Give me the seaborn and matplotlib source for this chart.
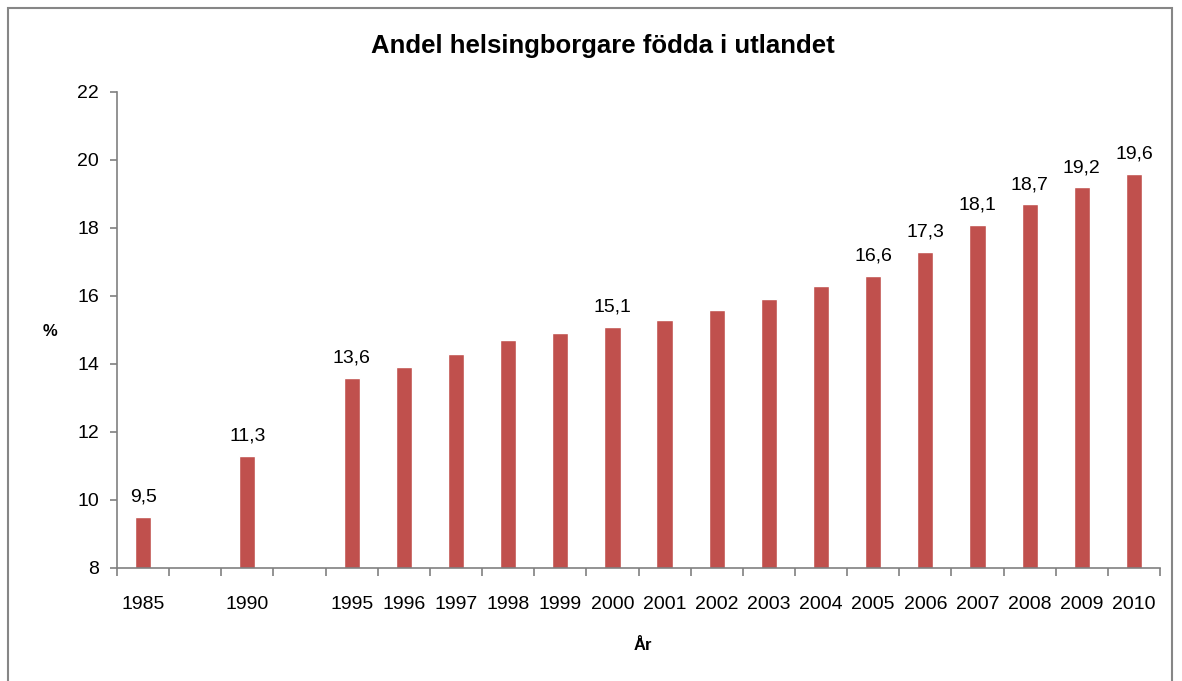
import matplotlib
matplotlib.use("Agg")
import matplotlib.pyplot as plt
import seaborn as sns
import pandas as pd
from matplotlib.patches import Rectangle

# Data
years = ["1985", "1990", "1995", "1996", "1997", "1998", "1999", "2000", "2001",
         "2002", "2003", "2004", "2005", "2006", "2007", "2008", "2009", "2010"]
share = [9.5, 11.3, 13.6, 13.9, 14.3, 14.7, 14.9, 15.1, 15.3,
         15.6, 15.9, 16.3, 16.6, 17.3, 18.1, 18.7, 19.2, 19.6]
# empty slots between 1985/1990 and 1990/1995
slots = ["1985", "_gap1", "1990", "_gap2"] + years[2:]
labelled = ["1985", "1990", "1995", "2000", "2005", "2006", "2007", "2008", "2009", "2010"]

df = pd.DataFrame({"year": years, "share": share})

sns.set_style("white")
plt.rcParams["font.family"] = ["Liberation Sans", "DejaVu Sans"]
plt.rcParams["text.color"] = "black"
plt.rcParams["xtick.labelcolor"] = "black"
plt.rcParams["ytick.labelcolor"] = "black"
plt.rcParams["axes.labelcolor"] = "black"

fig = plt.figure(figsize=(11.82, 6.81), dpi=100)
ax = fig.add_axes([117 / 1182, 1 - 568 / 681, (1160 - 117) / 1182, (568 - 92) / 681])

sns.barplot(data=df, x="year", y="share", order=slots, color="#C0504D",
            width=0.31, saturation=1, ax=ax)

ax.set_ylim(8, 22)
ax.set_yticks(range(8, 23, 2))
ax.set_xlim(-0.5, len(slots) - 0.5)

# Excel style: tick marks between categories, labels at centres
ax.set_xticks(range(len(slots)))
ax.set_xticklabels(["" if s.startswith("_") else s for s in slots])
ax.set_xticks([i - 0.5 for i in range(len(slots) + 1)], minor=True)
ax.tick_params(axis="x", which="major", length=0, pad=20, labelsize=14)
ax.tick_params(axis="x", which="minor", length=6, width=1.2, color="#808080", direction="out")
ax.tick_params(axis="y", length=5, width=1.2, color="#808080", direction="out", labelsize=14, pad=8)
ax.xaxis.set_ticks_position("bottom")
ax.yaxis.set_ticks_position("left")

for side in ["top", "right"]:
    ax.spines[side].set_visible(False)
for side in ["left", "bottom"]:
    ax.spines[side].set_color("#808080")
    ax.spines[side].set_linewidth(1.2)

bar_texts = [f"{v:.1f}".replace(".", ",") if y in labelled else "" for y, v in zip(years, share)]
ax.bar_label(ax.containers[0], labels=bar_texts, padding=8, fontsize=14)

ax.set_xlabel("")
ax.set_ylabel("")
fig.text(643 / 1182, 1 - 645 / 681, "År", fontsize=12, fontweight="bold", ha="center", va="center")
fig.text(50 / 1182, 1 - 332 / 681, "%", fontsize=12, fontweight="bold", ha="center", va="center")
fig.text(603 / 1182, 1 - 46 / 681, "Andel helsingborgare födda i utlandet",
         fontsize=18.5, fontweight="bold", ha="center", va="center")

# outer chart border
fig.patches.append(Rectangle((8 / 1182, -0.05), (1172 - 8) / 1182, 1.05 - 8 / 681,
                             transform=fig.transFigure, fill=False, edgecolor="#868686", linewidth=1.5))

fig.savefig("out.png", dpi=100)
